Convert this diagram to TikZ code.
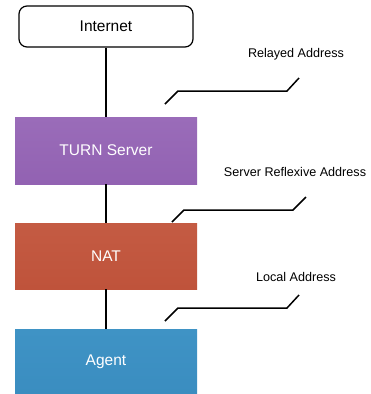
\documentclass[tikz,border=0pt]{standalone}
\usepackage{fontspec}
\setmainfont{Liberation Sans}
\definecolor{turnc}{HTML}{9262B2}
\definecolor{turntop}{HTML}{9A6CB9}
\definecolor{natc}{HTML}{BF533B}
\definecolor{nattop}{HTML}{C45B43}
\definecolor{agentc}{HTML}{3A8DC0}
\definecolor{agenttop}{HTML}{3F93C5}
\begin{document}
\begin{tikzpicture}[x=1pt,y=-1pt,
  box/.style={minimum width=182pt,minimum height=67pt,inner sep=0pt,text=white,font=\fontsize{15.5}{18}\selectfont},
  lbl/.style={font=\fontsize{12.6}{15}\selectfont,inner sep=0pt},
  link/.style={line width=1.4pt},
  lead/.style={line width=1.5pt}]
\useasboundingbox (0,0) rectangle (370,394);
\node[draw,line width=1.2pt,rounded corners=8pt,minimum width=174pt,minimum height=41pt,inner sep=0pt,font=\fontsize{15.5}{18}\selectfont] (inet) at (106,26.5) {Internet};
\node[box,top color=turntop,bottom color=turnc] (turn) at (106,150.5) {TURN Server};
\node[box,top color=nattop,bottom color=natc,minimum height=66pt] (nat) at (106,256) {NAT};
\node[box,top color=agenttop,bottom color=agentc,minimum height=66pt,anchor=north] (agent) at (106,329) {Agent};
\draw[link] (inet.south) -- (turn.north);
\draw[link] (turn.south) -- (nat.north);
\draw[link] (nat.south) -- (agent.north);
\node[lbl] (relayed) at (296,54) {Relayed Address};
\node[lbl] (srflx) at (295,172) {Server Reflexive Address};
\node[lbl] (local) at (296,277) {Local Address};
\coordinate (r1) at (165,104);
\coordinate (r4) at (299,78);
\coordinate (s1) at (172,222);
\coordinate (s4) at (306,197);
\coordinate (l1) at (165,321);
\coordinate (l4) at (299,295);
\draw[lead] (r1) -- (178,91) -- (287,91) -- (r4);
\draw[lead] (s1) -- (184,210) -- (293,210) -- (s4);
\draw[lead] (l1) -- (178,308) -- (287,308) -- (l4);
\end{tikzpicture}
\end{document}
